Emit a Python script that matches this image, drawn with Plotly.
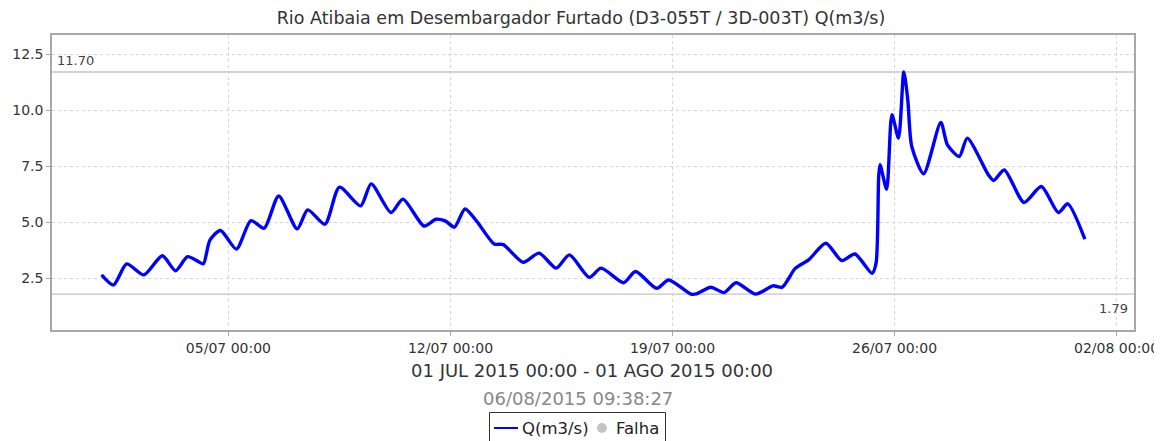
import plotly.graph_objects as go

title_text = "Rio Atibaia em Desembargador Furtado (D3-055T / 3D-003T) Q(m3/s)"
period_text = "01 JUL 2015 00:00 - 01 AGO 2015 00:00"
stamp_text = "06/08/2015 09:38:27"
series_name = "Q(m3/s)"
fail_name = "Falha"

times = [
    "2015-07-01 00:00", "2015-07-01 09:00", "2015-07-01 19:00", "2015-07-02 08:00",
    "2015-07-02 22:00", "2015-07-03 08:00", "2015-07-03 17:00", "2015-07-04 01:00",
    "2015-07-04 05:00", "2015-07-04 10:00", "2015-07-04 18:00", "2015-07-05 06:00",
    "2015-07-05 17:00", "2015-07-06 03:00", "2015-07-06 14:00", "2015-07-07 04:00",
    "2015-07-07 12:00", "2015-07-08 01:00", "2015-07-08 12:00", "2015-07-09 04:00",
    "2015-07-09 12:00", "2015-07-10 03:00", "2015-07-10 12:00", "2015-07-11 04:00",
    "2015-07-11 13:00", "2015-07-11 20:00", "2015-07-12 03:00", "2015-07-12 11:00",
    "2015-07-12 20:00", "2015-07-13 09:00", "2015-07-13 16:00", "2015-07-14 07:00",
    "2015-07-14 19:00", "2015-07-15 08:00", "2015-07-15 18:00", "2015-07-16 09:00",
    "2015-07-16 18:00", "2015-07-17 11:00", "2015-07-17 20:00", "2015-07-18 12:00",
    "2015-07-18 21:00", "2015-07-19 14:00", "2015-07-19 18:00", "2015-07-20 05:00",
    "2015-07-20 15:00", "2015-07-21 00:00", "2015-07-21 15:00", "2015-07-22 04:00",
    "2015-07-22 11:00", "2015-07-22 21:00", "2015-07-23 07:00", "2015-07-23 20:00",
    "2015-07-24 08:00", "2015-07-24 18:00", "2015-07-25 07:00", "2015-07-25 10:00",
    "2015-07-25 12:00", "2015-07-25 13:00", "2015-07-25 18:00", "2015-07-25 22:00",
    "2015-07-26 03:00", "2015-07-26 07:00", "2015-07-26 10:00", "2015-07-26 13:00",
    "2015-07-26 22:00", "2015-07-27 11:00", "2015-07-27 16:00", "2015-07-28 01:00",
    "2015-07-28 07:00", "2015-07-28 23:00", "2015-07-29 03:00", "2015-07-29 11:00",
    "2015-07-30 02:00", "2015-07-30 15:00", "2015-07-31 04:00", "2015-07-31 11:00",
    "2015-08-01 00:00",
]
flow = [
    2.65, 2.20, 3.14, 2.65,
    3.50, 2.83, 3.46, 3.25,
    3.14, 4.20, 4.63, 3.80,
    5.07, 4.73, 6.17, 4.70,
    5.55, 4.91, 6.56, 5.73,
    6.71, 5.43, 6.03, 4.83,
    5.13, 5.06, 4.78, 5.59,
    5.03, 4.03, 4.00, 3.21,
    3.62, 2.95, 3.54, 2.54,
    2.95, 2.30, 2.80, 2.05,
    2.42, 1.79, 1.80, 2.10,
    1.86, 2.30, 1.79, 2.16,
    2.10, 2.95, 3.32, 4.06,
    3.29, 3.58, 2.72, 3.17,
    7.04, 7.56, 6.47, 9.79,
    8.75, 11.70, 10.46, 8.38,
    7.16, 9.45, 8.45, 7.93,
    8.75, 7.11, 6.86, 7.33,
    5.88, 6.59, 5.43, 5.82,
    4.24,
]
max_value = 11.70
min_value = 1.79
y_ticks = [2.5, 5.0, 7.5, 10.0, 12.5]
y_range = [0.19, 13.35]
x_range = ["2015-06-29 10:30", "2015-08-02 13:10"]

FONT = "DejaVu Sans"
OFF = 8  # default page body margin
W, H = 1162 - OFF, 441 - OFF
ML, MR, MT, MB = 52 - OFF, 28, 35 - OFF, 111
PW, PH = W - ML - MR, H - MT - MB


def px(x):
    """page pixel x -> paper x"""
    return (x - OFF - ML) / PW


def py(y):
    """page pixel y -> paper y"""
    return (H - MB - (y - OFF)) / PH


fig = go.Figure()
fig.add_trace(go.Scatter(
    x=times, y=flow, mode="lines", name=series_name, showlegend=False,
    line=dict(color="#0000ff", width=3.4, shape="spline", smoothing=0.7),
))

for val in (max_value, min_value):
    fig.add_shape(type="line", xref="paper", x0=0, x1=1, yref="y", y0=val, y1=val,
                  line=dict(color="#c4c4c4", width=1.4), layer="below")

fig.add_annotation(xref="paper", x=px(55), yref="y", y=max_value, text=f"{max_value:.2f}",
                   showarrow=False, xanchor="left", yanchor="bottom", yshift=2,
                   font=dict(family=FONT, size=13, color="#444"))
fig.add_annotation(xref="paper", x=px(1130), yref="y", y=min_value, text=f"{min_value:.2f}",
                   showarrow=False, xanchor="right", yanchor="top", yshift=-5,
                   font=dict(family=FONT, size=13, color="#444"))

fig.add_annotation(xref="paper", x=px(592), yref="paper", y=py(370), text=period_text,
                   showarrow=False, xanchor="center", yanchor="middle",
                   font=dict(family=FONT, size=18, color="#333"))
fig.add_annotation(xref="paper", x=px(578), yref="paper", y=py(398), text=stamp_text,
                   showarrow=False, xanchor="center", yanchor="middle",
                   font=dict(family=FONT, size=18, color="#888"))

# legend box (drawn manually to match the compact original legend)
fig.add_shape(type="rect", xref="paper", yref="paper",
              x0=px(489.5), x1=px(665.5), y0=py(446), y1=py(412.5),
              line=dict(color="#333", width=1), fillcolor="white")
fig.add_shape(type="line", xref="paper", yref="paper",
              x0=px(494), x1=px(518), y0=py(428), y1=py(428),
              line=dict(color="#0000ff", width=2))
fig.add_annotation(xref="paper", x=px(520), yref="paper", y=py(428), text=series_name,
                   showarrow=False, xanchor="left", yanchor="middle",
                   font=dict(family=FONT, size=16.5, color="#222"))
fig.add_shape(type="circle", xref="paper", yref="paper",
              x0=px(597), x1=px(607), y0=py(433), y1=py(423),
              line=dict(color="#c4c4c4", width=0), fillcolor="#c4c4c4")
fig.add_annotation(xref="paper", x=px(614), yref="paper", y=py(428), text=fail_name,
                   showarrow=False, xanchor="left", yanchor="middle",
                   font=dict(family=FONT, size=16.5, color="#222"))

fig.update_layout(
    width=W, height=H,
    margin=dict(l=ML, r=MR, t=MT, b=MB, autoexpand=False),
    paper_bgcolor="white", plot_bgcolor="white",
    title=dict(text=title_text, x=(581 - OFF) / W, xanchor="center", xref="container",
               y=1 - (18 - OFF) / H, yanchor="middle", yref="container",
               font=dict(family=FONT, size=17.5, color="#333")),
    font=dict(family=FONT, size=14, color="#333"),
    showlegend=False,
)
fig.update_xaxes(
    type="date", range=x_range, tick0="2015-07-05", dtick=7 * 24 * 3600 * 1000,
    tickformat="%d/%m %H:%M", showgrid=True, gridcolor="#d4d4d4", griddash="3px,3px",
    gridwidth=1, showline=True, linecolor="#a8a8a8", linewidth=1.5, mirror=True,
    ticks="outside", ticklen=4, tickcolor="#a8a8a8", zeroline=False, automargin=False,
    tickfont=dict(family=FONT, size=14, color="#333"),
)
fig.update_yaxes(
    range=y_range, tickvals=y_ticks, ticktext=[f"{v:.1f}" for v in y_ticks],
    showgrid=True, gridcolor="#d4d4d4", griddash="3px,3px", gridwidth=1,
    showline=True, linecolor="#a8a8a8", linewidth=1.5, mirror=True,
    ticks="outside", ticklen=4, tickcolor="#a8a8a8", zeroline=False, automargin=False,
    tickfont=dict(family=FONT, size=14, color="#333"),
)

fig.write_html("out.html")
